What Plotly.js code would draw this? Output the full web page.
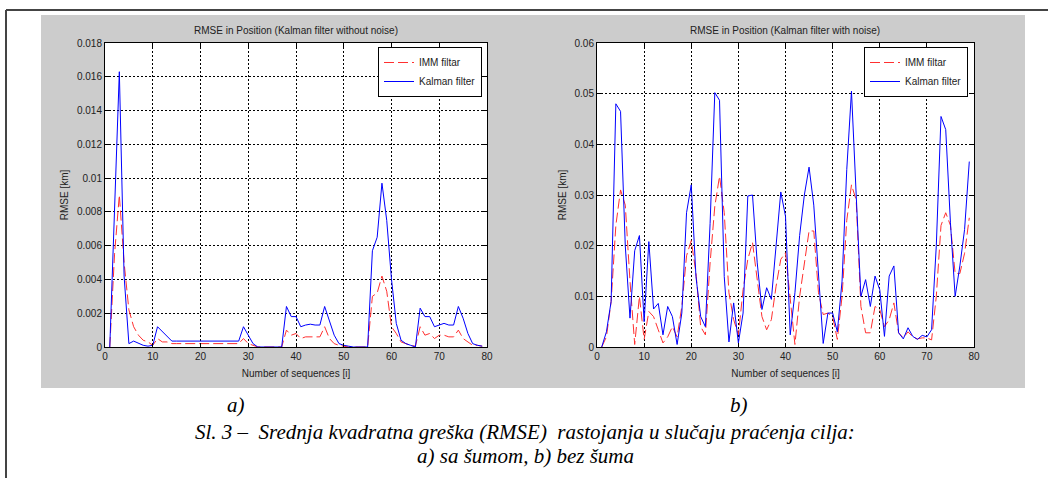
<!DOCTYPE html>
<html><head><meta charset="utf-8">
<script src="https://cdn.plot.ly/plotly-3.0.1.min.js"></script>
<style>html,body{margin:0;padding:0;background:#fff}#chart{width:1048px;height:478px}</style>
</head><body><div id="chart"></div>
<script>
const seqIdx = [1,2,3,4,5,6,7,8,9,10,11,12,13,14,15,16,17,18,19,20,21,22,23,24,25,26,27,28,29,30,31,32,33,34,35,36,37,38,39,40,41,42,43,44,45,46,47,48,49,50,51,52,53,54,55,56,57,58,59,60,61,62,63,64,65,66,67,68,69,70,71,72,73,74,75,76,77,78,79];

// Chart a) Kalman filter without noise
const immA = [0,0.0055,0.0090,0.0050,0.0022,0.0012,0.0007,0.0004,0.0003,0.0001,
  0.0005,0.0003,0.0003,0.0002,0.0002,0.0002,0.0002,0.0002,0.0002,0.0002,
  0.0002,0.0002,0.0002,0.0002,0.0002,0.0002,0.0002,0.0002,0.0005,0.0002,
  0.0001,0,0,0,0,0,0,0.0010,0.0007,0.0008,
  0.0005,0.0006,0.0006,0.0006,0.0006,0.0012,0.0005,0.0002,0.0001,0.00005,
  0,0,0,0,0,0.0030,0.0032,0.0042,0.0033,0.0012,
  0.0008,0.0003,0.0002,0.0001,0.00005,0.0012,0.0007,0.0008,0.0005,0.0007,
  0.0007,0.0006,0.0006,0.0010,0.0005,0.0003,0.0001,0.0001,0.00005];
const kalA = [0,0.0085,0.0163,0.0042,0.0002,0.00035,0.0002,0.0001,0.00005,0.0001,
  0.0012,0.0009,0.0006,0.00035,0.00035,0.00035,0.00035,0.00035,0.00035,0.00035,
  0.00035,0.00035,0.00035,0.00035,0.00035,0.00035,0.00035,0.00035,0.0012,0.0007,
  0.0002,0,0,0,0,0,0,0.0024,0.0018,0.0018,
  0.0012,0.0013,0.00135,0.0013,0.0013,0.0024,0.0016,0.0007,0.0002,0.0001,
  0.00005,0,0,0,0,0.0057,0.0065,0.0097,0.0075,0.0040,
  0.0014,0.0004,0.0002,0.0001,0,0.0023,0.0018,0.0018,0.0012,0.0013,
  0.0014,0.0013,0.0013,0.0024,0.0017,0.0008,0.0002,0.0001,0.00005];

// Chart b) Kalman filter with noise
const immB = [0,0.002,0.009,0.024,0.031,0.028,0.013,0.0005,0.010,0.0015,
  0.007,0.006,0.0034,0.0008,0.002,0.004,0.002,0.008,0.018,0.021,
  0.0146,0.004,0.0024,0.0166,0.0278,0.0337,0.0265,0.0107,0.0054,0.0024,
  0.0113,0.0173,0.0206,0.0133,0.006,0.0034,0.0054,0.012,0.0173,0.0186,
  0.0094,0.0005,0.010,0.0166,0.0229,0.0229,0.0107,0.0064,0.0067,0.006,
  0.0015,0.010,0.025,0.032,0.029,0.008,0.0028,0.0028,0.008,0.0074,
  0.004,0.0054,0.0087,0.0028,0.0018,0.003,0.002,0.0016,0.0018,0.0018,
  0.0014,0.010,0.024,0.0265,0.024,0.0145,0.0145,0.0185,0.0255];
const kalB = [0,0.003,0.009,0.048,0.0465,0.020,0.0057,0.019,0.022,0.005,
  0.0208,0.0075,0.0086,0.0024,0.008,0.006,0.0005,0.0067,0.0265,0.032,
  0.0139,0.006,0.004,0.0244,0.0502,0.0487,0.0139,0.001,0.0087,0.0008,
  0.0067,0.0298,0.030,0.0166,0.0074,0.0117,0.0094,0.020,0.0306,0.0258,
  0.0024,0.0107,0.022,0.030,0.0355,0.028,0.015,0.0007,0.0067,0.0067,
  0.003,0.013,0.035,0.0505,0.030,0.010,0.0133,0.008,0.014,0.0113,
  0.0021,0.014,0.016,0.0028,0.0016,0.0038,0.0021,0.0015,0.0023,0.002,
  0.0034,0.020,0.0455,0.0429,0.0245,0.010,0.016,0.0232,0.0366];

const yTickValsA = [0,0.002,0.004,0.006,0.008,0.01,0.012,0.014,0.016,0.018];
const yTickTextA = ['0','0.002','0.004','0.006','0.008','0.01','0.012','0.014','0.016','0.018'];
const yTickValsB = [0,0.01,0.02,0.03,0.04,0.05,0.06];
const yTickTextB = ['0','0.01','0.02','0.03','0.04','0.05','0.06'];
const xTickVals = [0,10,20,30,40,50,60,70,80];

const W = 1048, H = 478;
const px = v => v / W;
const py = v => 1 - v / H;

const sans = 'Liberation Sans';
const serif = 'Liberation Serif';
const tickFont = {family: sans, size: 10, color: '#222'};
const capFont = {family: serif, size: 21, color: '#000', style: 'italic'};

function xAxis(domain, anchor) {
  return {domain: domain, anchor: anchor, range: [0, 80], tickvals: xTickVals,
    ticks: 'inside', ticklen: 4, tickcolor: '#000', showline: true, linecolor: '#000', linewidth: 1,
    mirror: 'ticks', showgrid: true, gridcolor: '#000', gridwidth: 1, griddash: '2px,2px',
    zeroline: false, tickfont: tickFont, fixedrange: true,
    title: {text: 'Number of sequences [i]', font: {family: sans, size: 10, color: '#222'}, standoff: 8}};
}
function yAxis(domain, anchor, tv, tt, range) {
  return {domain: domain, anchor: anchor, range: range, tickvals: tv, ticktext: tt,
    ticks: 'inside', ticklen: 4, tickcolor: '#000', showline: true, linecolor: '#000', linewidth: 1,
    mirror: 'ticks', showgrid: true, gridcolor: '#000', gridwidth: 1, griddash: '2px,2px',
    zeroline: false, tickfont: tickFont, fixedrange: true,
    title: {text: 'RMSE [km]', font: {family: sans, size: 10, color: '#222'}, standoff: 6}};
}

const yDom = [py(347), py(43)];

const traces = [
  {x: seqIdx, y: immA, xaxis: 'x', yaxis: 'y', mode: 'lines', name: 'IMM filtar', legend: 'legend',
   line: {color: '#ff3030', width: 1, dash: '10px,4px'}},
  {x: seqIdx, y: kalA, xaxis: 'x', yaxis: 'y', mode: 'lines', name: 'Kalman filter', legend: 'legend',
   line: {color: '#0000ff', width: 1}},
  {x: seqIdx, y: immB, xaxis: 'x2', yaxis: 'y2', mode: 'lines', name: 'IMM filtar', legend: 'legend2',
   line: {color: '#ff3030', width: 1, dash: '10px,4px'}},
  {x: seqIdx, y: kalB, xaxis: 'x2', yaxis: 'y2', mode: 'lines', name: 'Kalman filter', legend: 'legend2',
   line: {color: '#0000ff', width: 1}}
];

const legendBase = {font: {family: sans, size: 10, color: '#222'}, bgcolor: '#fff', bordercolor: '#000',
  borderwidth: 1, xanchor: 'right', yanchor: 'top', tracegroupgap: 0, itemwidth: 30};

const layout = {
  width: W, height: H,
  margin: {l: 0, r: 0, t: 0, b: 0},
  paper_bgcolor: '#fff', plot_bgcolor: '#fff',
  showlegend: true,
  xaxis: xAxis([px(105), px(487)], 'y'),
  yaxis: yAxis(yDom, 'x', yTickValsA, yTickTextA, [0, 0.018]),
  xaxis2: xAxis([px(597), px(974)], 'y2'),
  yaxis2: yAxis(yDom, 'x2', yTickValsB, yTickTextB, [0, 0.06]),
  legend: Object.assign({}, legendBase, {x: px(482), y: py(47)}),
  legend2: Object.assign({}, legendBase, {x: px(968), y: py(47)}),
  shapes: [
    {type: 'rect', xref: 'paper', yref: 'paper', x0: px(41), x1: px(1025), y0: py(388), y1: py(15),
     fillcolor: '#cccccc', line: {width: 0}, layer: 'below'},
    {type: 'rect', xref: 'x domain', yref: 'y domain', x0: 0, x1: 1, y0: 0, y1: 1,
     fillcolor: '#ffffff', line: {width: 0}, layer: 'below'},
    {type: 'rect', xref: 'x2 domain', yref: 'y2 domain', x0: 0, x1: 1, y0: 0, y1: 1,
     fillcolor: '#ffffff', line: {width: 0}, layer: 'below'},
    {type: 'line', xref: 'paper', yref: 'paper', x0: px(6), x1: 1, y0: py(10), y1: py(10),
     line: {color: '#444', width: 2}},
    {type: 'line', xref: 'paper', yref: 'paper', x0: px(6), x1: px(6), y0: py(10), y1: 0,
     line: {color: '#444', width: 2}}
  ],
  annotations: [
    {text: 'RMSE in Position (Kalman filter without noise)', xref: 'paper', yref: 'paper',
     x: px(296), y: py(30), xanchor: 'center', yanchor: 'middle', showarrow: false,
     font: {family: sans, size: 10, color: '#222'}},
    {text: 'RMSE in Position (Kalman filter with noise)', xref: 'paper', yref: 'paper',
     x: px(785), y: py(30), xanchor: 'center', yanchor: 'middle', showarrow: false,
     font: {family: sans, size: 10, color: '#222'}},
    {text: 'a)', xref: 'paper', yref: 'paper', x: px(236), y: py(405), xanchor: 'center', yanchor: 'middle',
     showarrow: false, font: capFont},
    {text: 'b)', xref: 'paper', yref: 'paper', x: px(739), y: py(405), xanchor: 'center', yanchor: 'middle',
     showarrow: false, font: capFont},
    {text: 'Sl. 3 –  Srednja kvadratna greška (RMSE)  rastojanja u slučaju praćenja cilja:', xref: 'paper', yref: 'paper',
     x: px(525), y: py(432), xanchor: 'center', yanchor: 'middle',
     showarrow: false, font: capFont},
    {text: 'a) sa šumom, b) bez šuma', xref: 'paper', yref: 'paper',
     x: px(525), y: py(456), xanchor: 'center', yanchor: 'middle',
     showarrow: false, font: capFont}
  ]
};

Plotly.newPlot('chart', traces, layout, {staticPlot: true, displayModeBar: false});
</script>
</body></html>
